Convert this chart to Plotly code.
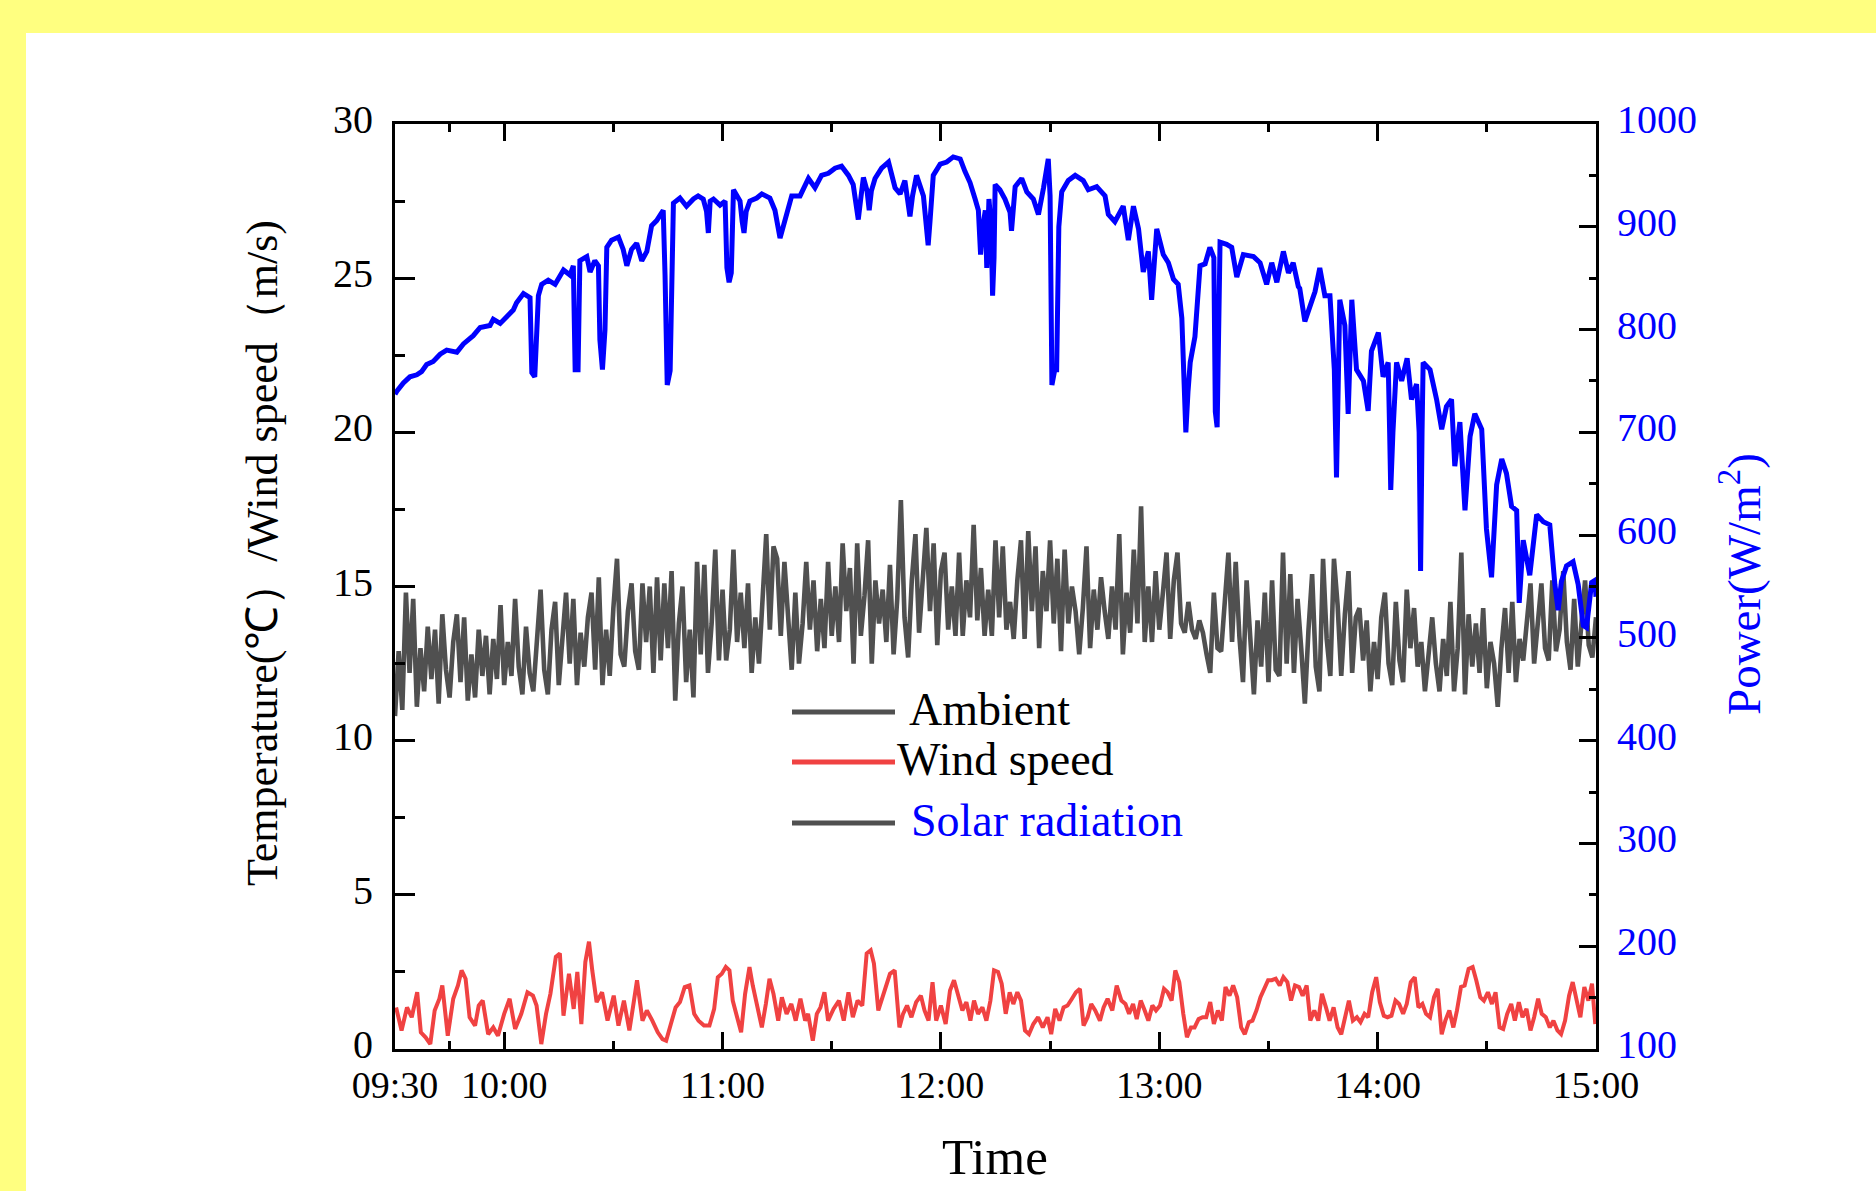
import pandas as pd
import plotly.graph_objects as go

# ---------------- data ----------------
BASE = pd.Timestamp("2020-01-01 09:30")

# Ambient temperature, one sample per minute from 09:30 (minute 0) to 15:00 (minute 330)
ambient_min = list(range(331))
ambient_temp = [
    10.8, 12.9, 11.0, 14.8, 12.2, 14.6, 11.1, 13.0, 11.6, 13.7,
    12.0, 13.6, 11.2, 14.1, 12.3, 11.4, 13.2, 14.1, 11.9, 14.0,
    11.3, 12.8, 11.4, 13.6, 12.1, 13.4, 11.5, 13.3, 12.0, 14.4,
    11.8, 13.2, 12.1, 14.6, 12.4, 11.5, 13.7, 12.2, 11.6, 13.4,
    14.9, 12.3, 11.5, 13.6, 14.5, 11.8, 13.2, 14.8, 12.5, 14.6,
    11.8, 13.5, 12.4, 14.0, 14.8, 12.3, 15.3, 11.8, 13.6, 12.1,
    14.3, 15.9, 12.8, 12.4, 14.2, 15.1, 12.9, 12.3, 15.1, 13.2,
    15.0, 12.2, 15.3, 12.6, 15.1, 13.0, 15.5, 11.3, 13.8, 15.0,
    11.9, 13.6, 11.4, 15.8, 12.8, 15.7, 12.2, 13.8, 16.2, 12.6,
    14.9, 12.6, 13.6, 16.2, 13.2, 14.8, 13.0, 15.1, 12.2, 14.0,
    12.5, 14.6, 16.7, 13.6, 16.3, 15.9, 13.4, 15.8, 14.0, 12.3,
    14.8, 12.5, 13.8, 15.8, 13.6, 15.2, 12.9, 14.6, 13.0, 15.8,
    13.4, 15.0, 13.2, 16.4, 14.2, 15.6, 12.5, 16.4, 13.4, 14.7,
    16.5, 12.5, 15.2, 13.8, 14.9, 13.2, 15.7, 12.8, 14.6, 17.8,
    14.0, 12.7, 15.2, 16.7, 13.5, 15.3, 16.9, 14.2, 16.4, 13.1,
    15.5, 16.1, 13.6, 15.0, 13.4, 16.1, 13.4, 15.2, 14.0, 17.0,
    13.9, 15.6, 13.4, 14.9, 13.4, 16.5, 14.0, 16.3, 13.6, 14.5,
    13.3, 15.2, 16.5, 13.3, 16.8, 14.2, 16.3, 13.0, 15.5, 14.2,
    16.5, 13.8, 15.9, 12.9, 16.2, 13.8, 15.0, 14.2, 12.8, 14.3,
    16.3, 13.0, 14.9, 13.6, 15.3, 14.2, 13.3, 15.0, 13.6, 16.7,
    12.8, 14.8, 13.5, 16.2, 13.8, 17.6, 13.2, 15.0, 13.2, 15.5,
    13.6, 14.8, 16.1, 13.3, 15.2, 16.1, 13.8, 13.5, 14.5, 13.6,
    13.3, 13.9, 13.5, 12.8, 12.2, 14.8, 13.0, 12.9, 14.8, 16.1,
    13.2, 15.8, 13.4, 11.9, 15.2, 13.2, 11.5, 13.9, 12.4, 14.8,
    11.9, 15.2, 12.3, 12.1, 16.1, 12.5, 15.4, 12.2, 14.6, 13.0,
    11.2, 13.6, 15.4, 12.4, 11.6, 15.9, 13.3, 12.1, 15.9, 14.4,
    12.1, 14.1, 15.5, 12.2, 14.0, 14.3, 12.6, 13.9, 11.6, 13.2,
    12.0, 14.0, 14.8, 12.5, 11.8, 14.5, 12.6, 11.9, 14.9, 13.0,
    14.3, 12.4, 13.2, 11.6, 12.8, 14.0, 12.5, 11.6, 13.3, 12.1,
    14.5, 11.6, 13.0, 16.1, 11.5, 14.1, 12.4, 13.8, 12.2, 14.3,
    11.7, 13.2, 12.5, 11.1, 13.0, 14.3, 12.2, 14.5, 11.9, 13.3,
    12.6, 13.8, 15.1, 12.5, 14.0, 15.1, 13.0, 12.6, 15.2, 12.9,
    13.6, 15.5, 13.2, 12.3, 14.6, 12.4, 13.8, 15.2, 13.1, 12.7,
    14.0,
]

# Wind speed (m/s), sample time in minutes after 09:30
wind_min = [
    0.3, 1.8, 3.3, 4.6, 6.1, 7.1, 8.4, 9.7, 10.9, 12.2,
    13.0, 14.5, 16.0, 17.3, 18.3, 19.4, 20.5, 22.0, 23.0, 24.1,
    25.6, 27.0, 28.3, 30.0, 31.5, 33.0, 34.7, 36.4, 37.9, 38.9,
    40.2, 41.5, 42.7, 44.2, 45.3, 46.3, 47.8, 49.1, 50.1, 51.2,
    52.3, 53.3, 54.2, 55.4, 56.9, 58.4, 60.1, 61.4, 62.9, 64.4,
    65.6, 66.5, 68.0, 69.2, 70.7, 72.2, 73.5, 74.5, 75.8, 77.1,
    78.3, 79.6, 80.9, 82.2, 83.4, 84.9, 86.4, 87.7, 88.7, 89.8,
    90.9, 91.9, 92.8, 94.0, 95.1, 96.2, 97.4, 98.3, 99.5, 100.8,
    101.9, 102.9, 104.0, 105.3, 106.3, 107.6, 108.9, 110.1, 111.4, 112.7,
    113.5, 114.8, 115.9, 116.9, 118.0, 119.0, 120.5, 122.0, 123.3, 124.6,
    125.8, 127.1, 128.4, 129.6, 130.7, 131.6, 132.8, 133.9, 134.9, 136.0,
    137.3, 138.6, 139.6, 140.7, 141.9, 143.2, 144.5, 145.5, 146.6, 147.7,
    148.7, 150.0, 151.3, 152.5, 153.6, 154.9, 155.9, 157.0, 158.1, 159.1,
    160.2, 161.4, 162.5, 163.6, 164.6, 165.7, 166.7, 167.8, 168.9, 169.9,
    171.0, 172.0, 173.1, 174.2, 175.4, 176.7, 178.0, 179.3, 180.3, 181.4,
    182.6, 183.7, 184.8, 186.0, 187.1, 188.2, 189.2, 190.3, 191.3, 192.4,
    193.7, 194.7, 195.8, 197.1, 198.3, 199.6, 200.7, 201.7, 202.8, 203.8,
    204.9, 206.0, 207.0, 208.1, 209.1, 210.2, 211.3, 212.3, 213.4, 214.4,
    215.5, 216.6, 217.6, 218.7, 219.7, 220.8, 221.9, 222.9, 224.0, 225.0,
    226.1, 227.2, 228.2, 229.3, 230.3, 231.4, 232.5, 233.5, 234.6, 235.6,
    236.7, 237.8, 238.8, 239.9, 240.9, 242.0, 243.1, 244.1, 245.2, 246.2,
    247.3, 248.4, 249.4, 250.5, 251.5, 252.6, 253.7, 254.7, 255.8, 256.8,
    257.9, 259.0, 260.0, 261.1, 262.1, 263.2, 264.3, 265.3, 266.4, 267.4,
    268.5, 269.6, 270.6, 271.7, 272.7, 273.8, 274.9, 275.9, 277.0, 278.0,
    279.1, 280.2, 281.2, 282.3, 283.3, 284.4, 285.5, 286.5, 287.6, 288.6,
    289.7, 290.8, 291.8, 292.9, 293.9, 295.0, 296.1, 297.1, 298.2, 299.2,
    300.3, 301.4, 302.4, 303.5, 304.5, 305.6, 306.7, 307.7, 308.8, 309.8,
    310.9, 312.0, 313.0, 314.1, 315.1, 316.2, 317.3, 318.3, 319.4, 320.4,
    321.5, 322.6, 323.6, 324.7, 325.7, 326.8, 327.9, 328.9, 329.8,
]
wind_speed = [
    1.35, 0.6, 1.35, 1.03, 1.84, 0.54, 0.38, 0.16, 1.25, 1.63,
    2.06, 0.43, 1.63, 2.06, 2.55, 2.28, 1.03, 0.76, 1.41, 1.57,
    0.48, 0.7, 0.43, 1.14, 1.63, 0.65, 1.14, 1.84, 1.73, 1.41,
    0.16, 1.14, 1.79, 2.99, 3.1, 1.08, 2.44, 1.3, 2.5, 0.81,
    2.82, 3.48, 2.55, 1.52, 1.84, 0.92, 1.73, 0.76, 1.57, 0.6,
    1.52, 2.23, 0.92, 1.25, 0.92, 0.54, 0.32, 0.27, 0.81, 1.35,
    1.52, 2.01, 2.06, 1.14, 0.92, 0.76, 0.76, 1.3, 2.33, 2.44,
    2.66, 2.55, 1.57, 1.03, 0.54, 1.79, 2.66, 2.06, 1.35, 0.7,
    1.46, 2.28, 1.79, 0.92, 1.68, 1.14, 1.46, 0.92, 1.63, 0.92,
    1.14, 0.27, 1.14, 1.35, 1.84, 0.92, 1.3, 1.57, 0.92, 1.84,
    1.03, 1.57, 1.41, 3.1, 3.2, 2.77, 1.25, 1.68, 2.01, 2.44,
    2.55, 0.7, 1.14, 1.41, 1.03, 1.52, 1.73, 1.25, 0.92, 2.17,
    0.92, 1.41, 0.81, 1.9, 2.23, 1.63, 1.25, 1.52, 0.92, 1.57,
    1.14, 1.35, 0.92, 1.57, 2.55, 2.5, 2.12, 1.14, 1.84, 1.46,
    1.84, 1.57, 0.6, 0.48, 0.81, 1.03, 0.7, 1.03, 0.48, 1.3,
    0.92, 1.35, 1.41, 1.63, 1.84, 1.95, 0.76, 1.03, 1.46, 1.25,
    0.92, 1.35, 1.63, 1.25, 2.06, 1.57, 1.46, 1.14, 1.46, 0.97,
    1.57, 1.25, 0.92, 1.41, 1.25, 1.41, 1.95, 1.84, 1.57, 2.55,
    2.17, 1.14, 0.38, 0.7, 0.7, 0.97, 1.03, 1.03, 1.52, 0.81,
    1.25, 0.92, 2.01, 1.73, 2.06, 1.68, 0.7, 0.48, 0.87, 0.92,
    1.25, 1.68, 1.95, 2.23, 2.23, 2.28, 2.06, 2.33, 2.17, 1.57,
    2.06, 2.01, 1.73, 2.06, 0.92, 1.25, 0.92, 1.79, 1.35, 0.92,
    1.35, 0.7, 0.48, 1.03, 1.57, 0.92, 1.03, 0.87, 1.14, 1.03,
    1.84, 2.33, 1.52, 1.08, 1.03, 1.08, 1.57, 1.46, 1.14, 1.46,
    2.17, 2.33, 1.35, 1.46, 1.14, 1.03, 1.68, 1.95, 0.48, 0.92,
    1.25, 0.7, 1.25, 2.01, 2.06, 2.6, 2.66, 2.23, 1.68, 1.57,
    1.84, 1.46, 1.84, 0.7, 0.65, 1.14, 1.46, 0.92, 1.52, 1.03,
    1.3, 0.6, 1.03, 1.63, 1.14, 1.03, 0.7, 0.92, 0.6, 0.48,
    0.92, 1.73, 2.17, 1.57, 1.03, 2.01, 1.57, 2.12, 0.81,
]

# Solar radiation (W/m2), sample time in minutes after 09:30
solar_min = [
    0.0, 0.5, 2.3, 4.1, 6.0, 7.3, 8.7, 10.5, 12.4, 14.2,
    17.0, 18.8, 21.5, 23.4, 26.1, 27.0, 28.9, 30.7, 32.5, 33.4,
    35.3, 37.1, 37.6, 38.4, 38.9, 39.4, 40.3, 42.1, 44.0, 45.3,
    46.3, 48.1, 49.0, 49.5, 50.3, 50.8, 52.7, 53.6, 54.9, 55.9,
    56.3, 57.0, 57.7, 58.2, 59.5, 61.4, 62.7, 63.7, 65.0, 66.4,
    67.8, 69.2, 70.5, 71.9, 73.7, 74.2, 74.8, 75.6, 76.0, 76.5,
    78.3, 80.1, 82.0, 83.3, 84.7, 85.6, 86.1, 86.6, 87.5, 89.3,
    90.7, 91.2, 91.8, 92.4, 93.0, 94.8, 95.4, 95.9, 96.5, 97.5,
    99.4, 100.8, 103.0, 104.4, 105.8, 107.6, 109.0, 111.3, 113.6, 115.4,
    117.2, 119.1, 120.9, 122.7, 124.6, 125.9, 126.8, 127.3, 127.9, 128.7,
    129.7, 130.3, 130.9, 131.9, 133.7, 135.6, 137.4, 138.8, 140.1, 141.0,
    141.5, 142.2, 143.3, 145.2, 146.0, 146.5, 147.0, 147.9, 149.8, 151.6,
    153.4, 155.3, 156.6, 158.0, 159.4, 160.3, 160.9, 161.5, 162.2, 162.6,
    163.2, 163.8, 164.2, 164.6, 164.9, 166.2, 167.6, 169.0, 169.4, 170.0,
    170.4, 172.2, 173.6, 175.4, 176.8, 178.2, 179.5, 180.0, 180.5, 181.3,
    181.8, 182.4, 183.2, 185.0, 186.9, 189.1, 190.5, 192.8, 195.1, 196.0,
    197.8, 200.1, 201.5, 202.9, 204.3, 205.6, 207.0, 207.9, 209.3, 211.1,
    212.5, 213.9, 215.2, 216.2, 216.8, 217.3, 217.9, 218.5, 219.8, 221.2,
    222.6, 223.9, 225.0, 225.4, 225.9, 226.3, 226.7, 228.5, 229.9, 231.3,
    233.1, 235.9, 237.7, 239.5, 240.9, 242.3, 244.1, 245.5, 246.8, 248.2,
    248.6, 250.0, 251.4, 252.8, 254.1, 255.5, 256.9, 258.1, 258.7, 259.2,
    259.6, 261.0, 261.9, 262.9, 264.2, 266.1, 267.4, 268.3, 270.2, 271.5,
    272.9, 273.3, 273.6, 274.2, 275.2, 276.6, 278.1, 279.3, 280.7, 281.4,
    281.8, 282.2, 282.5, 284.4, 286.2, 287.6, 288.9, 290.3, 291.2, 292.6,
    294.0, 295.4, 296.7, 298.6, 299.9, 301.3, 302.7, 304.1, 305.4, 306.8,
    308.2, 308.9, 310.0, 311.8, 313.7, 315.5, 317.3, 318.7, 319.6, 320.5,
    321.9, 323.7, 325.1, 326.5, 327.4, 328.8, 329.7, 330.0,
]
solar_w = [
    737, 740, 748, 754, 756, 759, 766, 769, 776, 780,
    778, 786, 794, 802, 804, 810, 806, 813, 819, 826,
    835, 831, 758, 754, 790, 833, 844, 848, 844, 853,
    858, 853, 862, 761, 761, 867, 871, 856, 867, 862,
    790, 761, 800, 880, 887, 890, 878, 862, 878, 884,
    867, 876, 901, 906, 916, 853, 746, 760, 828, 923,
    928, 920, 927, 930, 927, 915, 894, 925, 927, 921,
    925, 860, 846, 855, 936, 925, 905, 894, 915, 925,
    928, 932, 928, 916, 889, 914, 930, 930, 947, 938,
    950, 952, 957, 959, 950, 941, 920, 907, 925, 948,
    935, 916, 935, 947, 957, 963, 938, 932, 945, 925,
    910, 930, 950, 930, 905, 882, 905, 950, 961, 963,
    968, 966, 954, 943, 927, 916, 873, 900, 916, 860,
    927, 900, 833, 870, 941, 936, 927, 914, 896, 920,
    939, 947, 934, 927, 912, 938, 966, 930, 746, 761,
    761, 900, 934, 945, 950, 945, 936, 939, 930, 912,
    905, 920, 887, 920, 898, 856, 876, 829, 898, 873,
    865, 849, 844, 811, 760, 700, 740, 768, 793, 862,
    864, 880, 870, 720, 705, 800, 885, 883, 880, 851,
    873, 871, 865, 844, 865, 846, 876, 855, 865, 842,
    840, 808, 822, 837, 860, 833, 833, 761, 656, 740,
    829, 804, 718, 829, 761, 750, 721, 779, 797, 754,
    768, 700, 644, 700, 768, 750, 772, 732, 747, 700,
    565, 700, 768, 761, 732, 703, 725, 732, 667, 710,
    624, 696, 718, 703, 606, 559, 649, 674, 660, 628,
    624, 534, 595, 561, 620, 613, 610, 552, 527, 555,
    570, 574, 552, 512, 510, 554, 556, 540,
]

# Axis ticks
x_major_labels = ["09:30", "10:00", "11:00", "12:00", "13:00", "14:00", "15:00"]
x_minor_labels = ["09:45", "10:30", "11:30", "12:30", "13:30", "14:30"]

# ---------------- helpers ----------------
def to_time(mins):
    return [BASE + pd.Timedelta(minutes=float(m)) for m in mins]

def hm(label):
    return pd.Timestamp("2020-01-01 " + label)

SERIF = "Liberation Serif, Times New Roman, serif"
BLUE = "#0000FF"
GRAY = "#505050"
RED = "#F04242"

n_a = min(len(ambient_min), len(ambient_temp))
n_w = min(len(wind_min), len(wind_speed))
n_s = min(len(solar_min), len(solar_w))

fig = go.Figure()
fig.add_trace(go.Scatter(x=to_time(ambient_min[:n_a]), y=ambient_temp[:n_a], mode="lines",
                         line=dict(color=GRAY, width=4.6), name="Ambient", yaxis="y"))
fig.add_trace(go.Scatter(x=to_time(wind_min[:n_w]), y=wind_speed[:n_w], mode="lines",
                         line=dict(color=RED, width=4.0), name="Wind speed", yaxis="y"))
fig.add_trace(go.Scatter(x=to_time(solar_min[:n_s]), y=solar_w[:n_s], mode="lines",
                         line=dict(color=BLUE, width=5.0), name="Solar radiation", yaxis="y2"))

L, R, T, B = 395, 1596, 124, 1049
W_FIG, H_FIG = 1876, 1191
PW, PH = R - L, B - T

def px(x):
    return (x - L) / PW

def py(y):
    return (B - y) / PH

# white canvas on yellow frame
fig.add_shape(type="rect", xref="paper", yref="paper", x0=px(26), x1=px(1900),
              y0=py(1220), y1=py(33), fillcolor="white", line=dict(width=0), layer="below")

# manual legend
legend_items = [
    ("Ambient", GRAY, 712, 907, "black"),
    ("Wind speed", RED, 762, 895, "black"),
    ("Solar radiation", GRAY, 823, 909, BLUE),
]
for label, lc, yy, tx, tc in legend_items:
    fig.add_shape(type="line", xref="paper", yref="paper", x0=px(792), x1=px(895),
                  y0=py(yy), y1=py(yy), line=dict(color=lc, width=5))
    fig.add_annotation(xref="paper", yref="paper", x=px(tx), y=py(yy - 3), text=label,
                       showarrow=False, xanchor="left", yanchor="middle",
                       font=dict(family=SERIF, size=46, color=tc))

# axis titles
fig.add_annotation(xref="paper", yref="paper", x=px(995), y=py(1157), text="Time",
                   showarrow=False, xanchor="center", yanchor="middle",
                   font=dict(family=SERIF, size=51, color="black"))
fig.add_annotation(xref="paper", yref="paper", x=px(262), y=py(553),
                   text="Temperature(℃）/Wind speed（m/s)", textangle=-90,
                   showarrow=False, xanchor="center", yanchor="middle",
                   font=dict(family=SERIF, size=44, color="black"))
fig.add_annotation(xref="paper", yref="paper", x=px(1740), y=py(584),
                   text="Power(W/m<sup>2</sup>)", textangle=-90,
                   showarrow=False, xanchor="center", yanchor="middle",
                   font=dict(family=SERIF, size=47, color=BLUE))

axis_common = dict(showgrid=False, zeroline=False, showline=True, linecolor="black",
                   linewidth=3, ticks="inside", tickcolor="black", tickwidth=3)

fig.update_layout(
    width=W_FIG, height=H_FIG,
    margin=dict(l=L, r=W_FIG - R, t=T, b=H_FIG - B),
    paper_bgcolor="#FFFF80", plot_bgcolor="white",
    showlegend=False,
    xaxis=dict(**axis_common, type="date", range=[hm("09:30"), hm("15:00")],
               tickmode="array", tickvals=[hm(v) for v in x_major_labels],
               ticktext=x_major_labels, ticklen=17, mirror="ticks",
               ticklabelstandoff=0,
               tickfont=dict(family=SERIF, size=38, color="black"),
               minor=dict(tickmode="array", tickvals=[hm(v) for v in x_minor_labels],
                          ticks="inside", ticklen=8, tickwidth=3, tickcolor="black",
                          showgrid=False)),
    yaxis=dict(**axis_common, range=[0, 30], tickmode="linear", tick0=0, dtick=5,
               ticklen=20, ticklabelstandoff=11, ticklabelshift=-5,
               tickfont=dict(family=SERIF, size=40, color="black"),
               minor=dict(dtick=2.5, ticks="inside", ticklen=10, tickwidth=3,
                          tickcolor="black", showgrid=False)),
    yaxis2=dict(**axis_common, range=[100, 1000], overlaying="y", side="right",
                tickmode="linear", tick0=100, dtick=100, ticklen=17,
                ticklabelstandoff=10, ticklabelshift=-5,
                tickfont=dict(family=SERIF, size=40, color=BLUE),
                minor=dict(dtick=50, ticks="inside", ticklen=7, tickwidth=3,
                           tickcolor="black", showgrid=False)),
)

fig.write_html(
    "out.html",
    config={"displayModeBar": False},
    post_script="document.body.style.margin='0';document.body.style.overflow='hidden';",
)
